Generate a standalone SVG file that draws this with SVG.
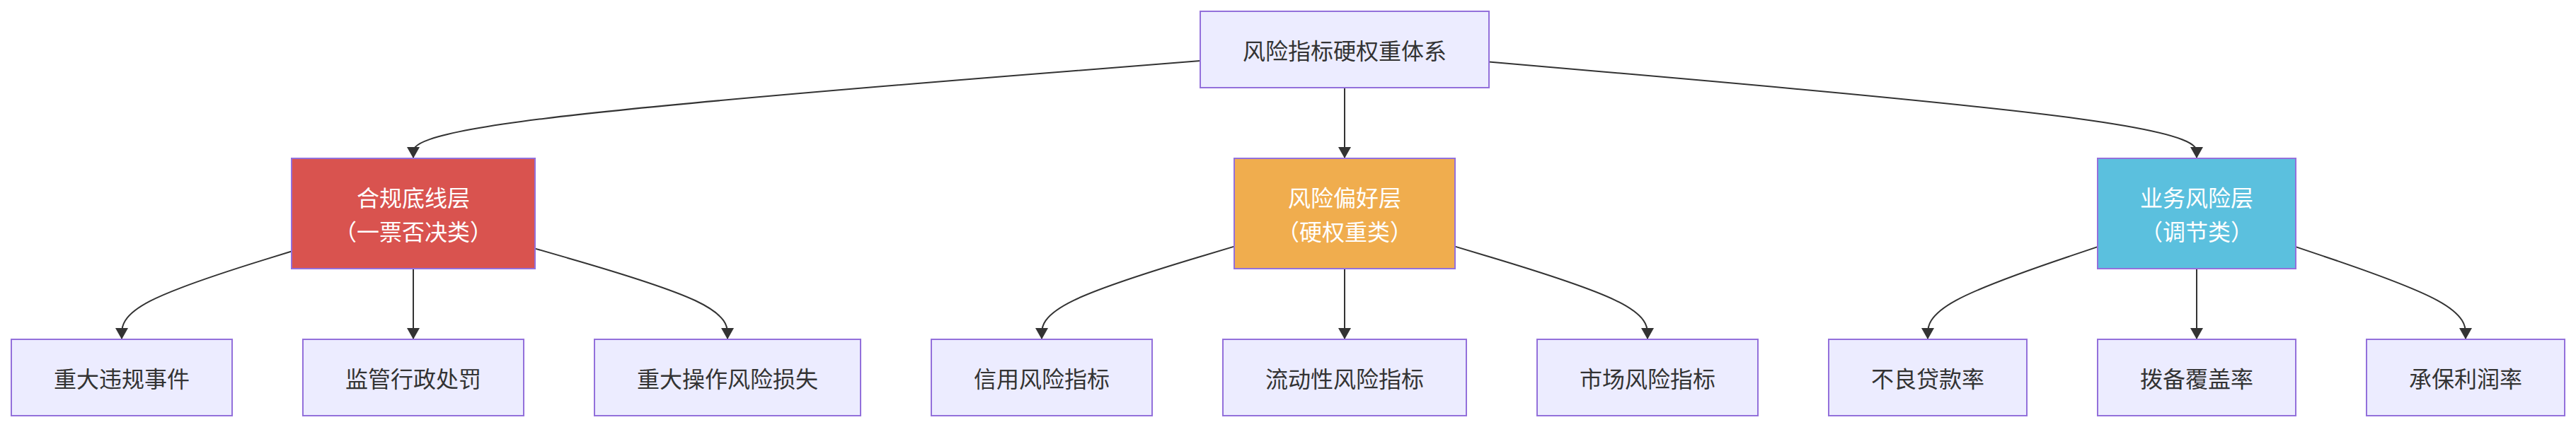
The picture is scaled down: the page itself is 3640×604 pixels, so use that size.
<svg xmlns="http://www.w3.org/2000/svg" width="3640" height="604" viewBox="0 0 3640 604">
<style>
.node rect{stroke:#9370DB;stroke-width:2}
.plain rect{fill:#ECECFF}
.plain text{fill:#333333}
.red rect{fill:#d9534f}
.orange rect{fill:#f0ad4e}
.blue rect{fill:#5bc0de}
.red text,.orange text,.blue text{fill:#ffffff}
text{font-family:"Noto Sans CJK SC","Noto Sans",sans-serif;font-size:32px;text-anchor:middle;dominant-baseline:central}
.edge{fill:none;stroke:#333333;stroke-width:2;marker-end:url(#arrow)}
</style>
<defs>
<marker id="arrow" markerUnits="userSpaceOnUse" markerWidth="16" markerHeight="18" viewBox="0 0 16 18" refX="16" refY="9" orient="auto">
<path d="M0,0 L16,9 L0,18 Z" fill="#333333"/>
</marker>
</defs>
<rect width="3640" height="604" fill="#ffffff"/>
<g id="connectors">
<path class="edge" d="M1696,86.1 L1510.67,100.75 C1325.33,115.4 954.67,144.7 769.33,167.68 C584,190.67 584,207.33 584,215.67 L584,224"/>
<path class="edge" d="M1900,124 L1900,224"/>
<path class="edge" d="M2104,87.6 L2270.67,102 C2437.33,116.4 2770.67,145.2 2937.33,167.93 C3104,190.67 3104,207.33 3104,215.67 L3104,224"/>
<path class="edge" d="M412,355.44 L372,367.87 C332,380.29 252,405.15 212,425.91 C172,446.67 172,463.33 172,471.67 L172,480"/>
<path class="edge" d="M584,380 L584,480"/>
<path class="edge" d="M756,351.59 L801.33,364.66 C846.67,377.73 937.33,403.86 982.67,425.27 C1028,446.67 1028,463.33 1028,471.67 L1028,480"/>
<path class="edge" d="M1744,348.65 L1698.67,362.21 C1653.33,375.77 1562.67,402.88 1517.33,424.78 C1472,446.67 1472,463.33 1472,471.67 L1472,480"/>
<path class="edge" d="M1900,380 L1900,480"/>
<path class="edge" d="M2056,348.65 L2101.33,362.21 C2146.67,375.77 2237.33,402.88 2282.67,424.78 C2328,446.67 2328,463.33 2328,471.67 L2328,480"/>
<path class="edge" d="M2964,349.16 L2924,362.63 C2884,376.11 2804,403.05 2764,424.86 C2724,446.67 2724,463.33 2724,471.67 L2724,480"/>
<path class="edge" d="M3104,380 L3104,480"/>
<path class="edge" d="M3244,349.16 L3284,362.63 C3324,376.11 3404,403.05 3444,424.86 C3484,446.67 3484,463.33 3484,471.67 L3484,480"/>
</g>
<g id="root" class="node plain"><rect x="1696" y="16" width="408" height="108"/><text x="1900" y="70">风险指标硬权重体系</text></g>
<g id="compliance" class="node red"><rect x="412" y="224" width="344" height="156"/><text x="584" y="278">合规底线层</text><text x="584" y="326">（一票否决类）</text></g>
<g id="appetite" class="node orange"><rect x="1744" y="224" width="312" height="156"/><text x="1900" y="278">风险偏好层</text><text x="1900" y="326">（硬权重类）</text></g>
<g id="business" class="node blue"><rect x="2964" y="224" width="280" height="156"/><text x="3104" y="278">业务风险层</text><text x="3104" y="326">（调节类）</text></g>
<g id="leaf1" class="node plain"><rect x="16" y="480" width="312" height="108"/><text x="172" y="534">重大违规事件</text></g>
<g id="leaf2" class="node plain"><rect x="428" y="480" width="312" height="108"/><text x="584" y="534">监管行政处罚</text></g>
<g id="leaf3" class="node plain"><rect x="840" y="480" width="376" height="108"/><text x="1028" y="534">重大操作风险损失</text></g>
<g id="leaf4" class="node plain"><rect x="1316" y="480" width="312" height="108"/><text x="1472" y="534">信用风险指标</text></g>
<g id="leaf5" class="node plain"><rect x="1728" y="480" width="344" height="108"/><text x="1900" y="534">流动性风险指标</text></g>
<g id="leaf6" class="node plain"><rect x="2172" y="480" width="312" height="108"/><text x="2328" y="534">市场风险指标</text></g>
<g id="leaf7" class="node plain"><rect x="2584" y="480" width="280" height="108"/><text x="2724" y="534">不良贷款率</text></g>
<g id="leaf8" class="node plain"><rect x="2964" y="480" width="280" height="108"/><text x="3104" y="534">拨备覆盖率</text></g>
<g id="leaf9" class="node plain"><rect x="3344" y="480" width="280" height="108"/><text x="3484" y="534">承保利润率</text></g>
</svg>
